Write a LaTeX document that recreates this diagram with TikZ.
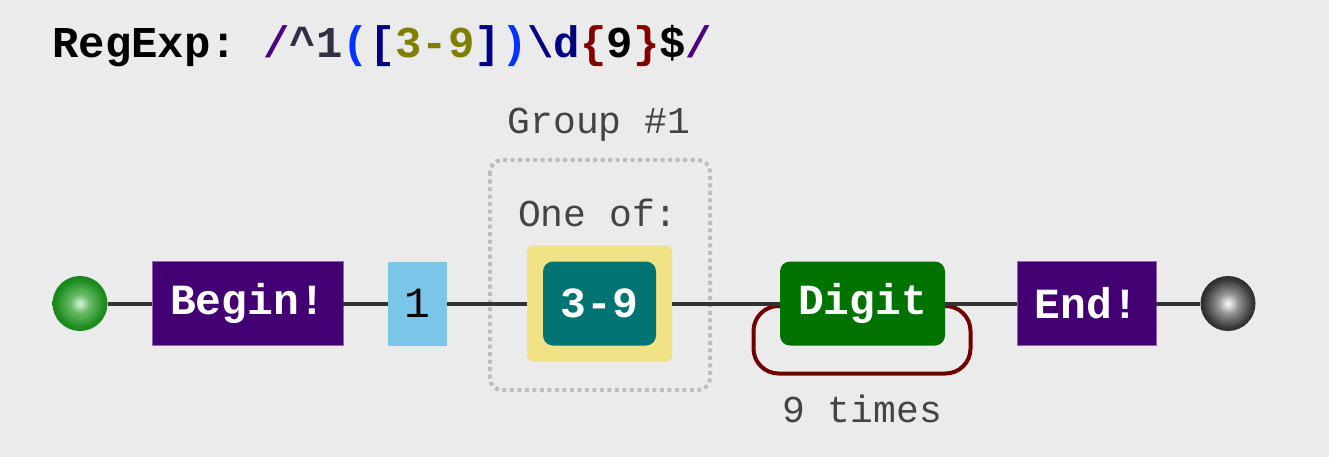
\documentclass[tikz,border=0pt]{standalone}
\usepackage{fontspec}
\setmonofont{Liberation Mono}
\usetikzlibrary{calc}
\definecolor{bg}{HTML}{EBEBEB}
\definecolor{anchorc}{HTML}{420073}
\definecolor{litc}{HTML}{7BC6E8}
\definecolor{setc}{HTML}{F0E285}
\definecolor{rangec}{HTML}{007373}
\definecolor{digitc}{HTML}{007200}
\definecolor{loopc}{HTML}{700000}
\definecolor{linec}{HTML}{333333}
\definecolor{labelc}{HTML}{444444}
\definecolor{dotc}{HTML}{BDBDBD}
\definecolor{rxslash}{HTML}{4B0082}
\definecolor{rxcaret}{HTML}{303045}
\definecolor{rxparen}{HTML}{0033FF}
\definecolor{rxbrack}{HTML}{000080}
\definecolor{rxolive}{HTML}{808000}
\definecolor{rxbrace}{HTML}{800000}
\definecolor{gb0}{RGB}{220,246,220}
\definecolor{gb1}{RGB}{100,185,100}
\definecolor{gb2}{RGB}{30,140,30}
\definecolor{gb3}{RGB}{0,110,0}
\definecolor{kb0}{RGB}{255,255,255}
\definecolor{kb1}{RGB}{150,150,150}
\definecolor{kb2}{RGB}{55,55,55}
\definecolor{kb3}{RGB}{10,10,10}
\pgfdeclareradialshading{greenball}{\pgfpoint{0bp}{0bp}}{color(0bp)=(gb0);color(9bp)=(gb1);color(22bp)=(gb2);color(36bp)=(gb3);color(50bp)=(gb3)}
\pgfdeclareradialshading{blackball}{\pgfpoint{0bp}{0bp}}{color(0bp)=(kb0);color(9bp)=(kb1);color(22bp)=(kb2);color(36bp)=(kb3);color(50bp)=(kb3)}
\tikzset{
  box/.style={inner sep=0pt, minimum height=84pt, font=\fontsize{43}{43}\selectfont\ttfamily\bfseries},
  anchorbox/.style={box, fill=anchorc, draw=anchorc!60!white, line width=0.8pt, text=white},
  litbox/.style={box, fill=litc, text=black, font=\fontsize{43}{43}\selectfont\ttfamily},
  rangebox/.style={box, fill=rangec, rounded corners=10pt, text=white},
  digitbox/.style={box, fill=digitc, rounded corners=10pt, text=white},
  setbox/.style={inner sep=0pt, fill=setc, rounded corners=6pt},
  lbl/.style={inner sep=0pt, text=labelc, font=\fontsize{38}{38}\selectfont\ttfamily},
  conn/.style={draw=linec, line width=4pt},
  endpt/.style={circle, inner sep=0pt, minimum size=55pt},
}
\begin{document}
\begin{tikzpicture}[x=1pt,y=-1pt]
\useasboundingbox[fill=bg] (0,0) rectangle (1329,457);
% title
\node[anchor=base west, inner sep=0pt, font=\fontsize{44}{44}\selectfont\ttfamily\bfseries] (title) at (52,58)
 {RegExp: \textcolor{rxslash}{/}\textcolor{rxcaret}{\textasciicircum 1}\textcolor{rxparen}{(}\textcolor{rxbrack}{[}\textcolor{rxolive}{3-9}\textcolor{rxbrack}{]}\textcolor{rxparen}{)}\textcolor{rxbrack}{\textbackslash d}\textcolor{rxbrace}{\{}9\textcolor{rxbrace}{\}}\$\textcolor{rxslash}{/}};
% group
\draw[dotc, line width=4pt, dash pattern=on 4pt off 3.5pt, rounded corners=12pt] (490,160) rectangle (710,390);
\node[lbl] (grouplbl) at (599,125) {Group \#1};
\node[lbl] (oneof) at (598,213) {One of:};
% nodes
\node[endpt, shading=greenball] (start) at (80,303.5) {};
\node[endpt, shading=blackball] (finish) at (1228,303.5) {};
\node[anchorbox, minimum width=191pt] (begin) at (247.5,303.5) {Begin!};
\node[litbox, minimum width=59pt] (one) at (417.5,303.5) {1};
\node[setbox, minimum width=145pt, minimum height=116pt] (set) at (599.5,303.5) {};
\node[rangebox, minimum width=113pt] (range) at (599.5,303.5) {3-9};
\node[anchorbox, minimum width=139pt] (end) at (1086.5,303.5) {End!};
% loop (behind digit)
\coordinate (digitpos) at (862.5,303.5);
\draw[loopc, line width=4pt, rounded corners=25pt]
  ($(digitpos)+(-70,2.5)$) -- ($(digitpos)+(-109,2.5)$) -- ($(digitpos)+(-109,70)$) -- ($(digitpos)+(108,70)$) -- ($(digitpos)+(108,2.5)$) -- ($(digitpos)+(70,2.5)$);
\node[digitbox, minimum width=165pt] (digit) at (digitpos) {Digit};
\node[lbl] (times) at (862,409) {9 times};
% connectors
\draw[conn] (start) -- (begin);
\draw[conn] (begin) -- (one);
\draw[conn] (one) -- (set);
\draw[conn] (set) -- (digit);
\draw[conn] (digit) -- (end);
\draw[conn] (end) -- (finish);
\end{tikzpicture}
\end{document}
